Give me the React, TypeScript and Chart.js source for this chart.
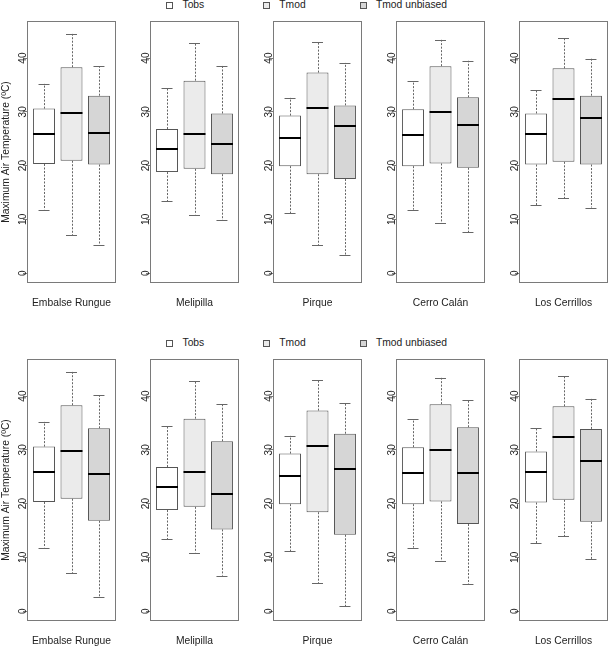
import React, { useEffect, useRef } from 'react';
import { Chart, registerables } from 'chart.js';

Chart.register(...registerables);

// ---------- data ----------
const STATIONS = ['Embalse Rungue', 'Melipilla', 'Pirque', 'Cerro Calán', 'Los Cerrillos'];
const SERIES = ['Tobs', 'Tmod', 'Tmod unbiased'];
const SERIES_X = [1, 2, 3];
const Y_TICKS = [0, 10, 20, 30, 40];
const Y_TITLE = 'Maximum Air Temperature (ºC)';

// observed (same in both rows)
const TOBS_LOW = [11.8, 13.4, 11.1, 11.8, 12.6];
const TOBS_Q1 = [20.3, 18.8, 19.9, 19.9, 20.2];
const TOBS_MED = [25.8, 23.0, 25.1, 25.7, 25.8];
const TOBS_Q3 = [30.6, 26.8, 29.3, 30.5, 29.7];
const TOBS_HIGH = [35.2, 34.4, 32.6, 35.7, 34.1];

// model (same in both rows)
const TMOD_LOW = [7.0, 10.9, 5.2, 9.3, 13.9];
const TMOD_Q1 = [20.9, 19.4, 18.4, 20.4, 20.7];
const TMOD_MED = [29.7, 25.9, 30.7, 29.9, 32.3];
const TMOD_Q3 = [38.3, 35.8, 37.3, 38.5, 38.1];
const TMOD_HIGH = [44.5, 42.9, 43.0, 43.4, 43.8];

// model unbiased, top row
const UNB1_LOW = [5.3, 9.9, 3.4, 7.6, 12.2];
const UNB1_Q1 = [20.2, 18.4, 17.5, 19.6, 20.2];
const UNB1_MED = [26.0, 24.0, 27.4, 27.6, 28.9];
const UNB1_Q3 = [33.0, 29.7, 31.2, 32.7, 33.0];
const UNB1_HIGH = [38.5, 38.6, 39.1, 39.5, 39.9];

// model unbiased, bottom row
const UNB2_LOW = [2.7, 6.6, 0.9, 5.0, 9.6];
const UNB2_Q1 = [16.8, 15.2, 14.2, 16.2, 16.6];
const UNB2_MED = [25.5, 21.7, 26.5, 25.7, 28.0];
const UNB2_Q3 = [34.0, 31.6, 33.0, 34.2, 33.9];
const UNB2_HIGH = [40.2, 38.6, 38.8, 39.2, 39.5];

// ---------- style / layout ----------
const FONT = "'Liberation Sans', Arial, Helvetica, sans-serif";
const TEXT = '#222222';
const FILLS = ['#ffffff', '#ebebeb', '#d6d6d6'];
const EDGE = '#555555';
const WHISKER = '#666666';
const FRAME_COLOR = '#7a7a7a';
const FRAME_LEFT = [27, 150, 273, 396, 519];
const FRAME_W = 89;
const FRAME_H = 262;
const ROW_TOP = [21, 359];
const X_AXIS_H = 28;
const PAD_TOP = 2;
const PAD_RIGHT = 3;
const Y_MIN = -1.85;
const Y_MAX = 46.9;
const LEGEND_TOP = [-1, 337];
const LEGEND_BOX_X = [166, 263, 360];
const LEGEND_TEXT_X = [182.5, 279.3, 376];

function rowStats(row: number, st: number): number[][] {
  const unb = row === 0
    ? [UNB1_LOW, UNB1_Q1, UNB1_MED, UNB1_Q3, UNB1_HIGH]
    : [UNB2_LOW, UNB2_Q1, UNB2_MED, UNB2_Q3, UNB2_HIGH];
  return [
    [TOBS_LOW[st], TOBS_Q1[st], TOBS_MED[st], TOBS_Q3[st], TOBS_HIGH[st]],
    [TMOD_LOW[st], TMOD_Q1[st], TMOD_MED[st], TMOD_Q3[st], TMOD_HIGH[st]],
    unb.map((a) => a[st]),
  ];
}

function Panel({ row, st }: { row: number; st: number }) {
  const ref = useRef<HTMLCanvasElement>(null);
  const canvasLeft = Math.max(0, FRAME_LEFT[st] - 28);
  const yW = FRAME_LEFT[st] - canvasLeft;

  useEffect(() => {
    const stats = rowStats(row, st);
    const boxPlugin = {
      id: 'boxWhiskers',
      afterDatasetsDraw(c: any) {
        const ctx = c.ctx;
        const y = c.scales.y;
        const meta = c.getDatasetMeta(0);
        meta.data.forEach((bar: any, i: number) => {
          const { x, width } = bar.getProps(['x', 'width'], true);
          const [lo, q1, med, q3, hi] = stats[i];
          const px = Math.round(x) + 0.5;
          ctx.save();
          ctx.strokeStyle = WHISKER;
          ctx.lineWidth = 1;
          ctx.setLineDash([2, 1.5]);
          ctx.beginPath();
          ctx.moveTo(px, y.getPixelForValue(q3));
          ctx.lineTo(px, y.getPixelForValue(hi));
          ctx.moveTo(px, y.getPixelForValue(q1));
          ctx.lineTo(px, y.getPixelForValue(lo));
          ctx.stroke();
          ctx.setLineDash([]);
          const cap = width / 4;
          ctx.beginPath();
          const yh = Math.round(y.getPixelForValue(hi)) + 0.5;
          const yl = Math.round(y.getPixelForValue(lo)) + 0.5;
          ctx.moveTo(x - cap, yh);
          ctx.lineTo(x + cap, yh);
          ctx.moveTo(x - cap, yl);
          ctx.lineTo(x + cap, yl);
          ctx.stroke();
          ctx.strokeStyle = '#000000';
          ctx.lineWidth = 2;
          const ym = Math.round(y.getPixelForValue(med));
          ctx.beginPath();
          ctx.moveTo(x - width / 2, ym);
          ctx.lineTo(x + width / 2, ym);
          ctx.stroke();
          ctx.restore();
        });
      },
      afterDraw(c: any) {
        const { left, top, right, bottom } = c.chartArea;
        const ctx = c.ctx;
        ctx.save();
        ctx.strokeStyle = FRAME_COLOR;
        ctx.lineWidth = 1;
        ctx.strokeRect(Math.round(left) + 0.5, Math.round(top) + 0.5, Math.round(right - left) - 1, Math.round(bottom - top) - 1);
        ctx.restore();
      },
    };

    const chart = new Chart(ref.current as HTMLCanvasElement, {
      type: 'bar',
      data: {
        datasets: [
          {
            label: STATIONS[st],
            data: SERIES_X.map((xv, i) => ({ x: xv, y: [stats[i][1], stats[i][3]] })) as any,
            backgroundColor: FILLS,
            borderColor: EDGE,
            borderWidth: 1,
            borderSkipped: false,
            barPercentage: 0.8,
            categoryPercentage: 1,
          },
        ],
      },
      options: {
        responsive: true,
        maintainAspectRatio: false,
        animation: false,
        events: [],
        layout: { padding: { top: PAD_TOP, right: PAD_RIGHT, left: 0, bottom: 0 } },
        plugins: { legend: { display: false }, tooltip: { enabled: false } },
        scales: {
          x: {
            type: 'linear',
            min: 0.38,
            max: 3.62,
            offset: false,
            afterBuildTicks: (s: any) => {
              s.ticks = SERIES_X.map((v) => ({ value: v }));
            },
            grid: { display: false, drawTicks: false },
            border: { display: false },
            ticks: { display: false },
            title: {
              display: true,
              text: STATIONS[st],
              color: TEXT,
              font: { family: FONT, size: 10.3 },
              padding: { top: 13.8, bottom: 1.8 },
            },
          },
          y: {
            min: Y_MIN,
            max: Y_MAX,
            afterBuildTicks: (s: any) => {
              s.ticks = Y_TICKS.map((v) => ({ value: v }));
            },
            afterFit: (s: any) => {
              s.width = yW;
            },
            grid: { drawOnChartArea: false, drawTicks: true, tickLength: 4, color: FRAME_COLOR },
            border: { display: false },
            ticks: {
              minRotation: 90,
              maxRotation: 90,
              crossAlign: 'center',
              padding: -6,
              color: TEXT,
              font: { family: FONT, size: 10 },
            },
            title: {
              display: st === 0,
              text: Y_TITLE,
              color: TEXT,
              font: { family: FONT, size: 10.3 },
              padding: { top: 0, bottom: 0 },
            },
          },
        },
      } as any,
      plugins: [boxPlugin],
    });
    return () => chart.destroy();
  }, [row, st, yW]);

  return (
    <div
      style={{
        position: 'absolute',
        left: canvasLeft,
        top: ROW_TOP[row] - PAD_TOP,
        width: yW + FRAME_W + PAD_RIGHT,
        height: PAD_TOP + FRAME_H + X_AXIS_H,
      }}
    >
      <canvas ref={ref} />
    </div>
  );
}

function Legend({ row }: { row: number }) {
  return (
    <>
      {SERIES.map((name, i) => (
        <React.Fragment key={name}>
          <div
            style={{
              position: 'absolute',
              left: LEGEND_BOX_X[i],
              top: LEGEND_TOP[row] + 3,
              width: 5,
              height: 5,
              background: FILLS[i],
              border: `1px solid ${EDGE}`,
            }}
          />
          <div
            style={{
              position: 'absolute',
              left: LEGEND_TEXT_X[i],
              top: LEGEND_TOP[row],
              fontFamily: FONT,
              fontSize: 10.3,
              lineHeight: '12px',
              color: TEXT,
              whiteSpace: 'nowrap',
            }}
          >
            {name}
          </div>
        </React.Fragment>
      ))}
    </>
  );
}

export default function App() {
  return (
    <div
      style={{
        position: 'absolute',
        left: 0,
        top: 0,
        width: 609,
        height: 647,
        background: '#ffffff',
        overflow: 'hidden',
      }}
    >
      {[0, 1].map((row) => (
        <React.Fragment key={row}>
          <Legend row={row} />
          {STATIONS.map((_, st) => (
            <Panel key={`${row}-${st}`} row={row} st={st} />
          ))}
        </React.Fragment>
      ))}
    </div>
  );
}
